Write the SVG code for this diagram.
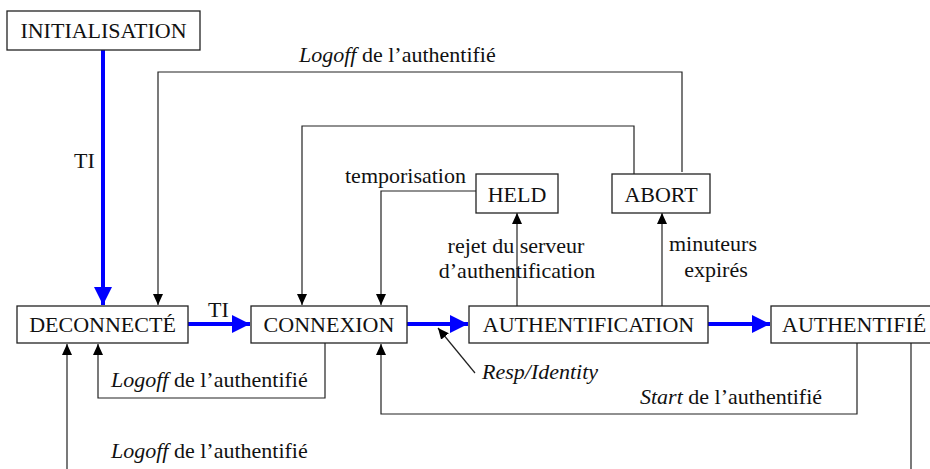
<svg xmlns="http://www.w3.org/2000/svg" width="930" height="469" viewBox="0 0 930 469">
<style>
text { font-family: 'Liberation Serif', 'Times New Roman', 'DejaVu Serif', serif; font-size: 22px; fill: #111; }
.box { fill: #fff; stroke: #222; stroke-width: 1.3; }
.c { text-anchor: middle; }
.blue { fill: none; stroke: #0000ff; stroke-width: 4; }
.blk { fill: none; stroke: #222; stroke-width: 1.2; }
.it { font-style: italic; }
</style>
<defs>
<marker id="ab" markerUnits="userSpaceOnUse" markerWidth="20" markerHeight="20" refX="18" refY="9" orient="auto" viewBox="0 0 20 20">
<path d="M0,0 L18,9 L0,18 z" fill="#0000ff"/>
</marker>
<marker id="ak" markerUnits="userSpaceOnUse" markerWidth="12" markerHeight="12" refX="11" refY="5" orient="auto" viewBox="0 0 12 12">
<path d="M0,0 L11,5 L0,10 z" fill="#000"/>
</marker>
</defs>
<rect width="930" height="469" fill="#fff"/>
<g id="connectors">
<path class="blue" d="M103,50 V305" marker-end="url(#ab)"/>
<path class="blue" d="M188,324 H250" marker-end="url(#ab)"/>
<path class="blue" d="M407,324 H468" marker-end="url(#ab)"/>
<path class="blue" d="M708,324 H770" marker-end="url(#ab)"/>
<path class="blk" d="M682,172 V72 H158 V305" marker-end="url(#ak)"/>
<path class="blk" d="M634,174 V126 H302 V305" marker-end="url(#ak)"/>
<path class="blk" d="M476,191 H381 V305" marker-end="url(#ak)"/>
<path class="blk" d="M517,306 V213" marker-end="url(#ak)"/>
<path class="blk" d="M662,306 V213" marker-end="url(#ak)"/>
<path class="blk" d="M325,343 V398 H98 V344" marker-end="url(#ak)"/>
<path class="blk" d="M857,343 V414 H381 V344" marker-end="url(#ak)"/>
<path class="blk" d="M911,343 V480 H67 V344" marker-end="url(#ak)"/>
<path class="blk" d="M475,373 L438,328" marker-end="url(#ak)"/>
</g>
<g id="labels" font-family="Liberation Serif, serif">
<text x="74" y="168">TI</text>
<text x="208" y="317">TI</text>
<text x="299" y="62"><tspan class="it">Logoff</tspan> de l’authentifié</text>
<text x="345" y="183">temporisation</text>
<text class="c" x="516" y="253">rejet du serveur</text>
<text class="c" x="517" y="278">d’authentification</text>
<text class="c" x="713" y="251">minuteurs</text>
<text class="c" x="716" y="277">expirés</text>
<text x="111" y="387"><tspan class="it">Logoff</tspan> de l’authentifié</text>
<text x="111" y="458"><tspan class="it">Logoff</tspan> de l’authentifié</text>
<text x="482" y="379" class="it">Resp/Identity</text>
<text x="640" y="404"><tspan class="it">Start</tspan> de l’authentifié</text>
</g>
<g id="n-init"><rect class="box" x="7" y="11" width="193" height="39"/><text class="c" x="103.5" y="38">INITIALISATION</text></g>
<g id="n-deconnecte"><rect class="box" x="17" y="306" width="171" height="37"/><text class="c" x="102.5" y="332">DECONNECTÉ</text></g>
<g id="n-connexion"><rect class="box" x="251" y="306" width="156" height="37"/><text class="c" x="329" y="332">CONNEXION</text></g>
<g id="n-auth"><rect class="box" x="469" y="306" width="239" height="37"/><text class="c" x="588.5" y="332">AUTHENTIFICATION</text></g>
<g id="n-authentifie"><rect class="box" x="771" y="306" width="165" height="37"/><text x="782" y="332">AUTHENTIFIÉ</text></g>
<g id="n-held"><rect class="box" x="476" y="174" width="82" height="39"/><text class="c" x="517" y="202">HELD</text></g>
<g id="n-abort"><rect class="box" x="612" y="174" width="98" height="39"/><text class="c" x="661" y="202">ABORT</text></g>
</svg>
